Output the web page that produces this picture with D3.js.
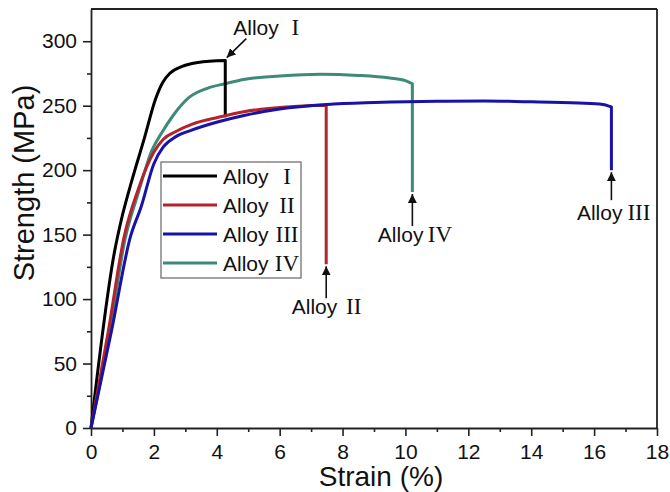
<!DOCTYPE html>
<html>
<head>
<meta charset="utf-8">
<script src="https://cdn.jsdelivr.net/npm/d3@7"></script>
<style>
body{margin:0;background:#fff;}
text{font-family:"Liberation Sans",Arial,sans-serif;fill:#111;}
.roman{font-family:"Liberation Serif","Times New Roman",serif;}
</style>
</head>
<body>
<svg id="chart" width="670" height="492"></svg>
<script>
// series names and colours
const alloyNum = ["I", "II", "III", "IV"];
const alloyColor = ["#000000", "#b3252b", "#1812a6", "#3e8a79"];

// stress-strain curves (strain %, MPa)
const strainI = [0, 0.75, 0.95, 1.3, 1.7, 2.05, 2.28, 2.5, 2.9, 3.4, 4.27];
const stressI = [0, 137, 160, 192, 225, 255, 268, 275, 280.5, 283.5, 285];

const strainII = [0, 0.55, 1.05, 1.5, 2.0, 2.3, 2.7, 3.2, 4.05, 4.9, 6.2, 7.48];
const stressII = [0, 75, 148, 185, 214, 224, 230, 235.5, 241, 245.5, 249, 250.3];

const strainIII = [0, 0.65, 1.25, 1.6, 2.0, 2.3, 2.7, 3.2, 4.05, 4.9, 6, 7.5, 9, 11, 12.5, 14, 15.5, 16.28, 16.55];
const stressIII = [0, 75, 148, 172, 205, 218, 226, 231, 237.5, 242.6, 247.5, 251, 252.5, 253.5, 253.6, 253, 252, 251, 249];

const strainIV = [0, 0.6, 1.08, 1.5, 1.93, 2.25, 2.6, 3.1, 3.7, 4.26, 4.9, 6, 7.3, 8.5, 9.5, 10.0, 10.22];
const stressIV = [0, 75, 146, 182, 215, 229, 242, 256, 263.5, 267, 270.5, 273, 274.4, 273.5, 271.5, 269.5, 267];

const strains = [strainI, strainII, strainIII, strainIV];
const stresses = [stressI, stressII, stressIII, stressIV];

// where each curve drops at fracture
const failStrain = [4.27, 7.48, 16.55, 10.22];
const failStress = [241, 127, 200, 183];

// axes
const xTicks = [0, 2, 4, 6, 8, 10, 12, 14, 16, 18];
const yTicks = [0, 50, 100, 150, 200, 250, 300];

const margin = {top: 9, right: 13, bottom: 64, left: 91};
const W = 670, H = 492;
const w = W - margin.left - margin.right;
const h = H - margin.top - margin.bottom;

const svg = d3.select("#chart");
const g = svg.append("g").attr("transform", `translate(${margin.left},${margin.top})`);

const x = d3.scaleLinear().domain([0, 18]).range([0, w]);
const y = d3.scaleLinear().domain([0, 325]).range([h, 0]);

// minor ticks first
g.append("g").attr("transform", `translate(0,${h})`)
    .call(d3.axisBottom(x).tickValues(d3.range(1, 18, 2)).tickSize(4).tickFormat(""))
    .call(a => a.select(".domain").remove());
g.append("g")
    .call(d3.axisLeft(y).tickValues(d3.range(25, 325, 50)).tickSize(4).tickFormat(""))
    .call(a => a.select(".domain").remove());

const xAxis = g.append("g").attr("transform", `translate(0,${h})`)
    .call(d3.axisBottom(x).tickValues(xTicks).tickSize(8).tickPadding(8).tickSizeOuter(0));
const yAxis = g.append("g")
    .call(d3.axisLeft(y).tickValues(yTicks).tickSize(8).tickPadding(6).tickSizeOuter(0));

[xAxis, yAxis].forEach(a => {
    a.selectAll("text").style("font-size", "21px").style("font-family", '"Liberation Sans",Arial,sans-serif').attr("fill", "#111");
});
g.selectAll(".tick line").attr("stroke", "#222").attr("stroke-width", 1.6);
g.selectAll(".domain").attr("stroke", "#222").attr("stroke-width", 1.8);

// top and right frame
g.append("line").attr("x1", 0).attr("x2", w).attr("y1", 0).attr("y2", 0).attr("stroke", "#222").attr("stroke-width", 1.8);
g.append("line").attr("x1", w).attr("x2", w).attr("y1", 0).attr("y2", h).attr("stroke", "#222").attr("stroke-width", 1.8);

// axis titles
svg.append("text").attr("x", 381).attr("y", 486)
    .attr("text-anchor", "middle").style("font-size", "28px").text("Strain (%)");
svg.append("text").attr("transform", "translate(34,183) rotate(-90)")
    .attr("text-anchor", "middle").style("font-size", "29px").text("Strength (MPa)");

// curves
const line = d3.line().x(d => x(d[0])).y(d => y(d[1])).curve(d3.curveMonotoneX);
// draw order: IV, I, II, III on top like the picture
[3, 0, 1, 2].forEach(i => {
    const pts = strains[i].map((s, j) => [s, stresses[i][j]]);
    g.append("path")
        .attr("d", line(pts) + "V" + y(failStress[i]))
        .attr("fill", "none")
        .attr("stroke", alloyColor[i])
        .attr("stroke-width", 3)
        .attr("stroke-linejoin", "round");
});

// arrowhead
svg.append("defs").append("marker")
    .attr("id", "arr").attr("viewBox", "0 0 10 10").attr("refX", 10).attr("refY", 5)
    .attr("markerWidth", 9).attr("markerHeight", 9).attr("markerUnits", "userSpaceOnUse")
    .attr("orient", "auto")
    .append("path").attr("d", "M0,0L10,5L0,10Z").attr("fill", "#111");

function label(gx, gy, num) {
    const t = g.append("g").attr("transform", `translate(${gx},${gy})`);
    t.append("text").attr("x", 0).attr("y", 0).style("font-size", "21px").text("Alloy");
    t.append("text").attr("class", "roman").attr("x", 62).attr("y", 0)
        .attr("text-anchor", "middle").style("font-size", "23px").text(num);
}

// fracture arrows for II, III, IV (arrow points up to the end of the drop)
[1, 2, 3].forEach(i => {
    const fx = x(failStrain[i]), fy = y(failStress[i]);
    const len = i === 2 ? 28 : 32;
    g.append("line").attr("x1", fx).attr("x2", fx).attr("y1", fy + 2 + len).attr("y2", fy + 2)
        .attr("stroke", "#111").attr("stroke-width", 1.6).attr("marker-end", "url(#arr)");
    label(fx - 34.5, fy + 50, alloyNum[i]);
});

// Alloy I arrow points at the top corner
{
    const fx = x(failStrain[0]), fy = y(stressI[stressI.length - 1]);
    g.append("line").attr("x1", fx + 21).attr("y1", fy - 22).attr("x2", fx + 1.5).attr("y2", fy - 3)
        .attr("stroke", "#111").attr("stroke-width", 1.6).attr("marker-end", "url(#arr)");
    label(fx + 8, fy - 25.5, alloyNum[0]);
}

// legend
const leg = svg.append("g").attr("transform", "translate(161,162)");
leg.append("rect").attr("width", 140).attr("height", 116)
    .attr("fill", "#fff").attr("stroke", "#666").attr("stroke-width", 1.2);
alloyNum.forEach((n, i) => {
    const ry = 14 + i * 29;
    leg.append("line").attr("x1", 2).attr("x2", 56).attr("y1", ry).attr("y2", ry)
        .attr("stroke", alloyColor[i]).attr("stroke-width", 3);
    leg.append("text").attr("x", 62).attr("y", ry + 7.5).style("font-size", "21px").text("Alloy");
    leg.append("text").attr("class", "roman").attr("x", 126).attr("y", ry + 8)
        .attr("text-anchor", "middle").style("font-size", "23px").text(n);
});
</script>
</body>
</html>
